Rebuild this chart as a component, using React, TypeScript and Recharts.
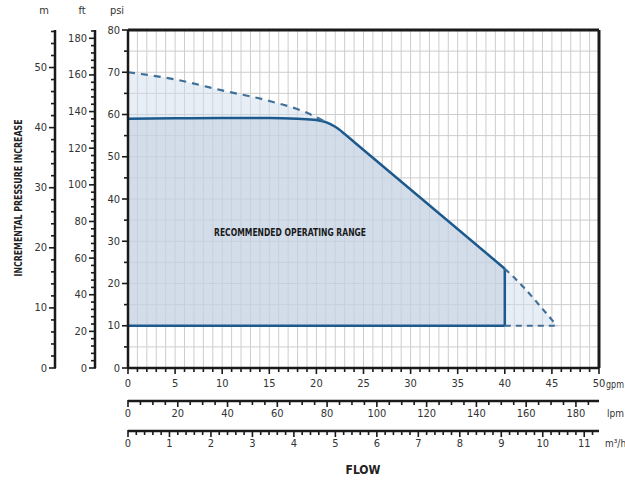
import {
  Area,
  CartesianGrid,
  ComposedChart,
  Line,
  ReferenceDot,
  ReferenceLine,
  XAxis,
  YAxis,
} from "recharts";

const FONT = '"Liberation Sans Narrow", "DejaVu Sans Condensed", "Roboto", sans-serif';
const INK = "#1a1a1a";
const BLUE = "#1c5a8e";
const DASH_BLUE = "#3f6f99";

// Recommended operating range: upper edge (psi against gpm), floor at 10 psi
const opFlow = [0, 5, 10, 15, 18, 20, 21, 22, 23, 24, 40];
const opPsi = [59, 59.1, 59.2, 59.2, 59.0, 58.7, 58.2, 57.1, 55.4, 53.5, 23.5];
const opFloor = 10;

// Maximum pump curve (dashed) at low flow and the run-out tail
const maxFlow = [0, 5, 10, 15, 19, 21];
const maxPsi = [70, 68.3, 65.7, 63.2, 60.4, 58.2];
const tailFlow = [40, 41, 42, 43, 44, 45, 45.5];
const tailPsi = [23.5, 21.4, 19.1, 16.6, 14.0, 11.4, 10];

// labelled ticks on each scale
const psiLabels = [0, 10, 20, 30, 40, 50, 60, 70, 80];
const ftLabels = [0, 20, 40, 60, 80, 100, 120, 140, 160, 180];
const mLabels = [0, 10, 20, 30, 40, 50];
const gpmLabels = [0, 5, 10, 15, 20, 25, 30, 35, 40, 45, 50];
const lpmLabels = [0, 20, 40, 60, 80, 100, 120, 140, 160, 180];
const m3hLabels = [0, 1, 2, 3, 4, 5, 6, 7, 8, 9, 10, 11];

// unit conversions used for the secondary scales
const PSI_MAX = 80;
const GPM_MAX = 50;
const PSI_TO_FT = 2.3067;
const PSI_TO_M = 0.70307;
const GPM_TO_LPM = 3.78541;
const GPM_TO_M3H = 0.227125;

const FT_MAX = PSI_MAX * PSI_TO_FT;
const M_MAX = PSI_MAX * PSI_TO_M;
const LPM_MAX = GPM_MAX * GPM_TO_LPM;
const M3H_MAX = GPM_MAX * GPM_TO_M3H;

const steps = (max: number, step: number) =>
  Array.from({ length: Math.floor(max / step + 1e-9) + 1 }, (_, i) => +(i * step).toFixed(3));

const opData = opFlow.map((g, i) => ({ gpm: g, band: [opFloor, opPsi[i]] }));
const envFlow = [...maxFlow, ...opFlow.filter((g) => g > 21), ...tailFlow.filter((g) => g > 40)];
const envPsi = [
  ...maxPsi,
  ...opPsi.filter((_, i) => opFlow[i] > 21),
  ...tailPsi.filter((_, i) => tailFlow[i] > 40),
];
const envData = envFlow.map((g, i) => ({ gpm: g, band: [opFloor, envPsi[i]] }));
const maxData = maxFlow.map((g, i) => ({ gpm: g, psi: maxPsi[i] }));
const tailData = tailFlow.map((g, i) => ({ gpm: g, psi: tailPsi[i] }));
const floorTail = [
  { gpm: tailFlow[0], psi: opFloor },
  { gpm: tailFlow[tailFlow.length - 1], psi: opFloor },
];
const edgeData = [
  { gpm: opFlow[opFlow.length - 1], psi: opFloor },
  { gpm: opFlow[opFlow.length - 1], psi: opPsi[opPsi.length - 1] },
];

// invisible carriers so the secondary scales get drawn
const lpmSpan = [{ lpm: 0, psi: 0 }, { lpm: LPM_MAX, psi: 0 }];
const m3hSpan = [{ m3h: 0, psi: 0 }, { m3h: M3H_MAX, psi: 0 }];
const ftSpan = [{ gpm: 0, ft: 0 }, { gpm: GPM_MAX, ft: FT_MAX }];
const mSpan = [{ gpm: 0, m: 0 }, { gpm: GPM_MAX, m: M_MAX }];

function AxisTick(props: any) {
  const { x, y, payload, side, labels, gap = 12 } = props;
  const v = payload.value;
  const major = labels.some((l: number) => Math.abs(l - v) < 1e-6);
  const len = major ? 6 : 4;
  if (side === "left") {
    return (
      <g>
        <line x1={x - len} x2={x + 1} y1={y} y2={y} stroke={INK} strokeWidth={1.6} />
        {major && (
          <text x={x - 8} y={y} textAnchor="end" dominantBaseline="central" fontSize={11} fill="#333" fontFamily={FONT}>
            {v}
          </text>
        )}
      </g>
    );
  }
  return (
    <g>
      <line x1={x} x2={x} y1={y - 1} y2={y + len} stroke={INK} strokeWidth={1.6} />
      {major && (
        <text x={x} y={y + gap} textAnchor="middle" dominantBaseline="central" fontSize={11} fill="#333" fontFamily={FONT}>
          {v}
        </text>
      )}
    </g>
  );
}

const axisLine = { stroke: INK, strokeWidth: 2.5 };

const rangeLabel = (props: any) => {
  const { viewBox } = props;
  const cx = viewBox.cx ?? viewBox.x;
  const cy = viewBox.cy ?? viewBox.y;
  return (
    <text
      x={cx}
      y={cy}
      textAnchor="middle"
      dominantBaseline="central"
      fontSize={11}
      fontWeight="bold"
      fill="#1a1a1a"
      fontFamily={FONT}
      textLength={152}
      lengthAdjust="spacingAndGlyphs"
    >
      RECOMMENDED OPERATING RANGE
    </text>
  );
};

export default function App() {
  return (
    <div style={{ position: "absolute", left: 0, top: 0, width: 625, height: 484, background: "#fff" }}>
      <ComposedChart width={625} height={484} margin={{ top: 30, right: 26, bottom: 0, left: 0 }}>
        <CartesianGrid stroke="#cdcdcd" strokeWidth={1} />
        <XAxis
          xAxisId={0}
          type="number"
          dataKey="gpm"
          domain={[0, GPM_MAX]}
          ticks={steps(GPM_MAX, 1)}
          interval={0}
          height={33}
          tickSize={0}
          tickMargin={0}
          axisLine={axisLine}
          tick={<AxisTick side="bottom" labels={gpmLabels} gap={15} />}
        />
        <XAxis
          xAxisId="lpm"
          type="number"
          dataKey="lpm"
          domain={[0, LPM_MAX]}
          ticks={steps(LPM_MAX, 5)}
          interval={0}
          height={30}
          tickSize={0}
          tickMargin={0}
          axisLine={axisLine}
          tick={<AxisTick side="bottom" labels={lpmLabels} />}
        />
        <XAxis
          xAxisId="m3h"
          type="number"
          dataKey="m3h"
          domain={[0, M3H_MAX]}
          ticks={steps(M3H_MAX, 0.2)}
          interval={0}
          height={53}
          tickSize={0}
          tickMargin={0}
          axisLine={axisLine}
          tick={<AxisTick side="bottom" labels={m3hLabels} />}
        />
        <YAxis
          yAxisId={0}
          type="number"
          domain={[0, PSI_MAX]}
          ticks={steps(PSI_MAX, 5)}
          interval={0}
          width={33}
          tickSize={0}
          tickMargin={0}
          axisLine={axisLine}
          tick={<AxisTick side="left" labels={psiLabels} />}
        />
        <YAxis
          yAxisId="ft"
          type="number"
          domain={[0, FT_MAX]}
          ticks={steps(FT_MAX, 4)}
          interval={0}
          width={40}
          tickSize={0}
          tickMargin={0}
          axisLine={axisLine}
          tick={<AxisTick side="left" labels={ftLabels} />}
        />
        <YAxis
          yAxisId="m"
          type="number"
          domain={[0, M_MAX]}
          ticks={steps(M_MAX, 2)}
          interval={0}
          width={55}
          tickSize={0}
          tickMargin={0}
          axisLine={axisLine}
          tick={<AxisTick side="left" labels={mLabels} />}
        />

        <Line data={lpmSpan} xAxisId="lpm" dataKey="psi" stroke="none" dot={false} isAnimationActive={false} />
        <Line data={m3hSpan} xAxisId="m3h" dataKey="psi" stroke="none" dot={false} isAnimationActive={false} />
        <Line data={ftSpan} yAxisId="ft" dataKey="ft" stroke="none" dot={false} isAnimationActive={false} />
        <Line data={mSpan} yAxisId="m" dataKey="m" stroke="none" dot={false} isAnimationActive={false} />

        <Area
          data={envData}
          dataKey="band"
          type="monotone"
          stroke="none"
          fill="#d1dded"
          fillOpacity={0.5}
          isAnimationActive={false}
        />
        <Area
          data={opData}
          dataKey="band"
          type="monotone"
          stroke={BLUE}
          strokeWidth={2.5}
          fill="#beccde"
          fillOpacity={0.5}
          isAnimationActive={false}
        />
        <Line
          data={edgeData}
          dataKey="psi"
          type="linear"
          stroke={BLUE}
          strokeWidth={2.5}
          dot={false}
          isAnimationActive={false}
        />
        <Line
          data={maxData}
          dataKey="psi"
          type="monotone"
          stroke={DASH_BLUE}
          strokeWidth={2.2}
          strokeDasharray="7 6"
          dot={false}
          isAnimationActive={false}
        />
        <Line
          data={tailData}
          dataKey="psi"
          type="monotone"
          stroke={DASH_BLUE}
          strokeWidth={2.2}
          strokeDasharray="6 5"
          dot={false}
          isAnimationActive={false}
        />
        <Line
          data={floorTail}
          dataKey="psi"
          type="linear"
          stroke={DASH_BLUE}
          strokeWidth={2.2}
          strokeDasharray="6 5"
          dot={false}
          isAnimationActive={false}
        />

        <ReferenceLine y={PSI_MAX} stroke={INK} strokeWidth={3} />
        <ReferenceLine x={GPM_MAX} stroke={INK} strokeWidth={3} />
        <ReferenceDot x={17.2} y={32} r={0} fill="none" stroke="none" label={rangeLabel} />

        <g fontFamily={FONT} fill="#222">
          <text x={44} y={14} textAnchor="middle" fontSize={11} fill="#333">m</text>
          <text x={82} y={14} textAnchor="middle" fontSize={11} fill="#333">ft</text>
          <text x={117} y={14} textAnchor="middle" fontSize={11} fill="#333">psi</text>
          <text
            x={18}
            y={198}
            transform="rotate(-90 18 198)"
            textAnchor="middle"
            dominantBaseline="central"
            fontSize={11}
            fontWeight="bold"
            textLength={157}
            lengthAdjust="spacingAndGlyphs"
          >
            INCREMENTAL PRESSURE INCREASE
          </text>
          <text x={606} y={384} dominantBaseline="central" fontSize={10} fill="#333" textLength={18} lengthAdjust="spacingAndGlyphs">gpm</text>
          <text x={607} y={413} dominantBaseline="central" fontSize={10} fill="#333">lpm</text>
          <text x={605} y={443} dominantBaseline="central" fontSize={10} fill="#333">m³/h</text>
          <text x={363} y={470} textAnchor="middle" dominantBaseline="central" fontSize={12} fontWeight="bold">
            FLOW
          </text>
        </g>
      </ComposedChart>
    </div>
  );
}
